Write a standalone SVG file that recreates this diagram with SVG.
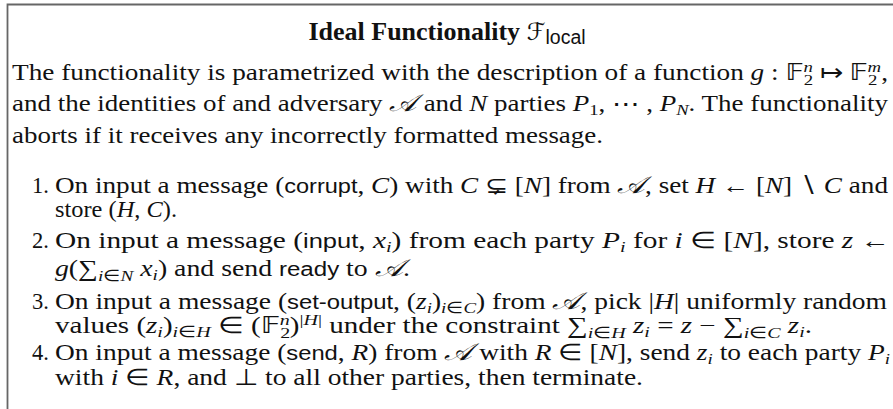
<svg xmlns="http://www.w3.org/2000/svg" width="893" height="409" viewBox="0 0 893 409">
<style>
.t{font-family:"Liberation Serif",serif;font-size:22.5px;fill:#111}
.i{font-style:italic}
.s{font-family:"Liberation Sans",sans-serif;font-size:19.5px}
.b{font-weight:bold;font-size:26px}
.sb{font-size:15.5px}
.sc{font-family:"DejaVu Serif","DejaVu Sans",serif;font-style:italic;font-size:24px}
.ds{font-family:"DejaVu Sans","DejaVu Serif",sans-serif}
</style>
<g id="frame"><path d="M7.5,409 V4.5 H893" fill="none" stroke="#666" stroke-width="1.8"/></g>
<g id="title">
<text class="t" x="447" y="40" text-anchor="middle"><tspan class="b">Ideal Functionality </tspan><tspan class="sc" font-size="26">ℱ</tspan><tspan class="s" font-size="16" baseline-shift="-4">local</tspan></text>
</g>
<g id="intro">
<text class="t" x="12" y="80" textLength="876" lengthAdjust="spacingAndGlyphs">The functionality is parametrized with the description of a function <tspan class="i">g</tspan> : <tspan class="ds">𝔽</tspan><tspan class="sb" baseline-shift="-5">2</tspan><tspan class="sb i" dx="-8" baseline-shift="8">n</tspan> ↦ <tspan class="ds">𝔽</tspan><tspan class="sb" baseline-shift="-5">2</tspan><tspan class="sb i" dx="-8" baseline-shift="8">m</tspan>,</text>
<text class="t" x="12" y="111" textLength="876" lengthAdjust="spacingAndGlyphs">and the identities of and adversary <tspan class="sc">𝒜</tspan> and <tspan class="i">N</tspan> parties <tspan class="i">P</tspan><tspan class="sb" baseline-shift="-4">1</tspan>, ⋯ , <tspan class="i">P</tspan><tspan class="sb i" baseline-shift="-4">N</tspan>. The functionality</text>
<text class="t" x="12" y="143" textLength="591" lengthAdjust="spacingAndGlyphs">aborts if it receives any incorrectly formatted message.</text>
</g>
<g id="item1">
<text class="t" x="32" y="193">1.</text>
<text class="t" x="55" y="193" textLength="833" lengthAdjust="spacingAndGlyphs">On input a message (<tspan class="s">corrupt</tspan>, <tspan class="i">C</tspan>) with <tspan class="i">C</tspan> ⊊ [<tspan class="i">N</tspan>] from <tspan class="sc">𝒜</tspan>, set <tspan class="i">H</tspan> ← [<tspan class="i">N</tspan>] ∖ <tspan class="i">C</tspan> and</text>
<text class="t" x="55" y="217" textLength="122" lengthAdjust="spacingAndGlyphs">store (<tspan class="i">H</tspan>, <tspan class="i">C</tspan>).</text>
</g>
<g id="item2">
<text class="t" x="32" y="248">2.</text>
<text class="t" x="55" y="248" textLength="835" lengthAdjust="spacingAndGlyphs">On input a message (<tspan class="s">input</tspan>, <tspan class="i">x</tspan><tspan class="sb i" baseline-shift="-4">i</tspan>) from each party <tspan class="i">P</tspan><tspan class="sb i" baseline-shift="-4">i</tspan> for <tspan class="i">i</tspan> ∈ [<tspan class="i">N</tspan>], store <tspan class="i">z</tspan> ←</text>
<text class="t" x="55" y="276" textLength="355" lengthAdjust="spacingAndGlyphs"><tspan class="i">g</tspan>(∑<tspan class="sb" baseline-shift="-5"><tspan class="i">i</tspan>∈<tspan class="i">N</tspan></tspan> <tspan class="i">x</tspan><tspan class="sb i" baseline-shift="-4">i</tspan>) and send <tspan class="s">ready</tspan> to <tspan class="sc">𝒜</tspan>.</text>
</g>
<g id="item3">
<text class="t" x="32" y="309">3.</text>
<text class="t" x="55" y="309" textLength="832" lengthAdjust="spacingAndGlyphs">On input a message (<tspan class="s">set-output</tspan>, (<tspan class="i">z</tspan><tspan class="sb i" baseline-shift="-4">i</tspan>)<tspan class="sb" baseline-shift="-4"><tspan class="i">i</tspan>∈<tspan class="i">C</tspan></tspan>) from <tspan class="sc">𝒜</tspan>, pick |<tspan class="i">H</tspan>| uniformly random</text>
<text class="t" x="55" y="333" textLength="757" lengthAdjust="spacingAndGlyphs">values (<tspan class="i">z</tspan><tspan class="sb i" baseline-shift="-4">i</tspan>)<tspan class="sb" baseline-shift="-4"><tspan class="i">i</tspan>∈<tspan class="i">H</tspan></tspan> ∈ (<tspan class="ds">𝔽</tspan><tspan class="sb" baseline-shift="-5">2</tspan><tspan class="sb i" dx="-8" baseline-shift="8">n</tspan>)<tspan class="sb" baseline-shift="8">|<tspan class="i">H</tspan>|</tspan> under the constraint ∑<tspan class="sb" baseline-shift="-5"><tspan class="i">i</tspan>∈<tspan class="i">H</tspan></tspan> <tspan class="i">z</tspan><tspan class="sb i" baseline-shift="-4">i</tspan> = <tspan class="i">z</tspan> − ∑<tspan class="sb" baseline-shift="-5"><tspan class="i">i</tspan>∈<tspan class="i">C</tspan></tspan> <tspan class="i">z</tspan><tspan class="sb i" baseline-shift="-4">i</tspan>.</text>
</g>
<g id="item4">
<text class="t" x="32" y="360">4.</text>
<text class="t" x="55" y="360" textLength="835" lengthAdjust="spacingAndGlyphs">On input a message (<tspan class="s">send</tspan>, <tspan class="i">R</tspan>) from <tspan class="sc">𝒜</tspan> with <tspan class="i">R</tspan> ∈ [<tspan class="i">N</tspan>], send <tspan class="i">z</tspan><tspan class="sb i" baseline-shift="-4">i</tspan> to each party <tspan class="i">P</tspan><tspan class="sb i" baseline-shift="-4">i</tspan></text>
<text class="t" x="55" y="385" textLength="588" lengthAdjust="spacingAndGlyphs">with <tspan class="i">i</tspan> ∈ <tspan class="i">R</tspan>, and ⊥ to all other parties, then terminate.</text>
</g>
</svg>
